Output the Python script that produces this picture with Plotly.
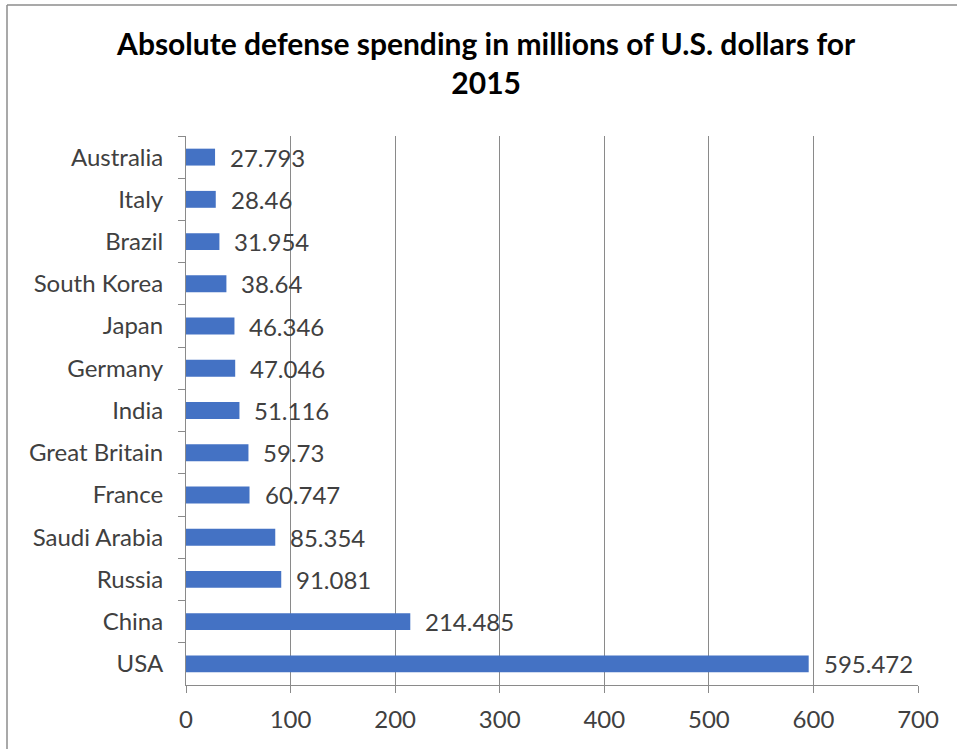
import plotly.graph_objects as go

countries = ["Australia", "Italy", "Brazil", "South Korea", "Japan", "Germany", "India",
             "Great Britain", "France", "Saudi Arabia", "Russia", "China", "USA"]
spending = [27.793, 28.46, 31.954, 38.64, 46.346, 47.046, 51.116,
            59.73, 60.747, 85.354, 91.081, 214.485, 595.472]
labels = ["27.793", "28.46", "31.954", "38.64", "46.346", "47.046", "51.116",
          "59.73", "60.747", "85.354", "91.081", "214.485", "595.472"]
x_ticks = [0, 100, 200, 300, 400, 500, 600, 700]
title = "Absolute defense spending in millions of U.S. dollars for<br>2015"

W, H = 957, 749
ML, MR, MT, MB = 186, 39, 136, 64
FONT = "Lato"
FS = 24
GRID = "#8a8a8a"

fig = go.Figure()
fig.add_trace(go.Bar(
    x=spending, y=countries, orientation="h",
    marker=dict(color="#4472C4", line=dict(width=0)),
    hoverinfo="x+y",
))

for c, v, t in zip(countries, spending, labels):
    fig.add_annotation(x=v, y=c, text=t, showarrow=False, xanchor="left",
                       xshift=13, font=dict(family=FONT, size=FS, color="#404040"))

pw = W - ML - MR
ph = H - MT - MB
x0 = (7 - ML) / pw
y1 = 1 + (MT - 5) / ph
fig.add_shape(type="line", xref="paper", yref="paper", x0=x0, x1=x0, y0=-1, y1=y1,
              line=dict(color="#8c8c8c", width=1.5))
fig.add_shape(type="line", xref="paper", yref="paper", x0=x0, x1=2, y0=y1, y1=y1,
              line=dict(color="#8c8c8c", width=1.5))

fig.update_layout(
    width=W, height=H,
    margin=dict(l=ML, r=MR, t=MT, b=MB),
    paper_bgcolor="white", plot_bgcolor="white",
    showlegend=False,
    bargap=0.6,
    font=dict(family=FONT, size=FS, color="#404040"),
    title=dict(text=title, x=0.508, xanchor="center", y=1 - 55 / H, yanchor="top",
               font=dict(family=FONT, size=30, color="black", weight="bold")),
    xaxis=dict(range=[0, 700], tickvals=x_ticks, ticks="outside", ticklen=7,
               tickcolor=GRID, showgrid=True, gridcolor=GRID, gridwidth=1,
               showline=True, linecolor=GRID, linewidth=1, zeroline=False,
               tickfont=dict(family=FONT, size=FS, color="#404040"),
               ticklabelstandoff=6, fixedrange=True),
    yaxis=dict(autorange="reversed", type="category", ticks="outside", ticklen=7,
               tickson="boundaries", tickcolor=GRID, showline=True, linecolor=GRID,
               linewidth=1, showgrid=False,
               tickfont=dict(family=FONT, size=FS, color="#404040"),
               ticklabelstandoff=17, fixedrange=True),
)

fig.write_html("out.html")
